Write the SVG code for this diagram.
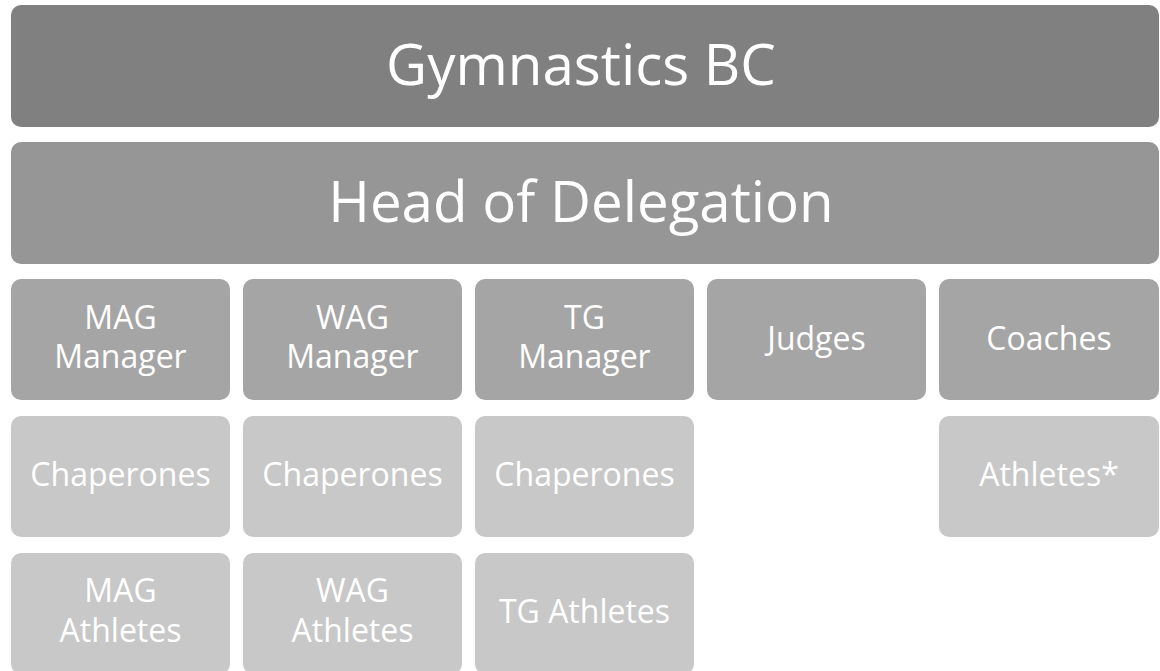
<svg xmlns="http://www.w3.org/2000/svg" width="1160" height="671" viewBox="0 0 1160 671">
  <style>
    .box { stroke: none; }
    .l1 { fill: #808080; }
    .l2 { fill: #969696; }
    .l3 { fill: #a5a5a5; }
    .l4 { fill: #c8c8c8; }
    text { font-family: "Open Sans", "Noto Sans", "Liberation Sans", sans-serif; fill: #ffffff; text-anchor: middle; }
    .big { font-size: 56.5px; }
    .mid { font-size: 32px; }
  </style>
  <rect width="1160" height="671" fill="#ffffff"/>
  <g id="connectors"></g>
  <g id="gymnastics-bc">
    <rect class="box l1" x="11" y="5" width="1148" height="122" rx="10"/>
    <text class="big" x="581" y="85">Gymnastics BC</text>
  </g>
  <g id="head-of-delegation">
    <rect class="box l2" x="11" y="142" width="1148" height="122" rx="10"/>
    <text class="big" x="581" y="222">Head of Delegation</text>
  </g>
  <g id="mag-manager">
    <rect class="box l3" x="11" y="279" width="219" height="121" rx="10"/>
    <text class="mid" x="120.5" y="329">MAG</text>
    <text class="mid" x="120.5" y="368">Manager</text>
  </g>
  <g id="wag-manager">
    <rect class="box l3" x="243" y="279" width="219" height="121" rx="10"/>
    <text class="mid" x="352.5" y="329">WAG</text>
    <text class="mid" x="352.5" y="368">Manager</text>
  </g>
  <g id="tg-manager">
    <rect class="box l3" x="475" y="279" width="219" height="121" rx="10"/>
    <text class="mid" x="584.5" y="329">TG</text>
    <text class="mid" x="584.5" y="368">Manager</text>
  </g>
  <g id="judges">
    <rect class="box l3" x="707" y="279" width="219" height="121" rx="10"/>
    <text class="mid" x="816.5" y="350">Judges</text>
  </g>
  <g id="coaches">
    <rect class="box l3" x="939" y="279" width="220" height="121" rx="10"/>
    <text class="mid" x="1049" y="350">Coaches</text>
  </g>
  <g id="mag-chaperones">
    <rect class="box l4" x="11" y="416" width="219" height="121" rx="10"/>
    <text class="mid" x="120.5" y="486">Chaperones</text>
  </g>
  <g id="wag-chaperones">
    <rect class="box l4" x="243" y="416" width="219" height="121" rx="10"/>
    <text class="mid" x="352.5" y="486">Chaperones</text>
  </g>
  <g id="tg-chaperones">
    <rect class="box l4" x="475" y="416" width="219" height="121" rx="10"/>
    <text class="mid" x="584.5" y="486">Chaperones</text>
  </g>
  <g id="coach-athletes">
    <rect class="box l4" x="939" y="416" width="220" height="121" rx="10"/>
    <text class="mid" x="1049" y="486">Athletes*</text>
  </g>
  <g id="mag-athletes">
    <rect class="box l4" x="11" y="553" width="219" height="121" rx="10"/>
    <text class="mid" x="120.5" y="602">MAG</text>
    <text class="mid" x="120.5" y="642">Athletes</text>
  </g>
  <g id="wag-athletes">
    <rect class="box l4" x="243" y="553" width="219" height="121" rx="10"/>
    <text class="mid" x="352.5" y="602">WAG</text>
    <text class="mid" x="352.5" y="642">Athletes</text>
  </g>
  <g id="tg-athletes">
    <rect class="box l4" x="475" y="553" width="219" height="121" rx="10"/>
    <text class="mid" x="584.5" y="623">TG Athletes</text>
  </g>
</svg>
